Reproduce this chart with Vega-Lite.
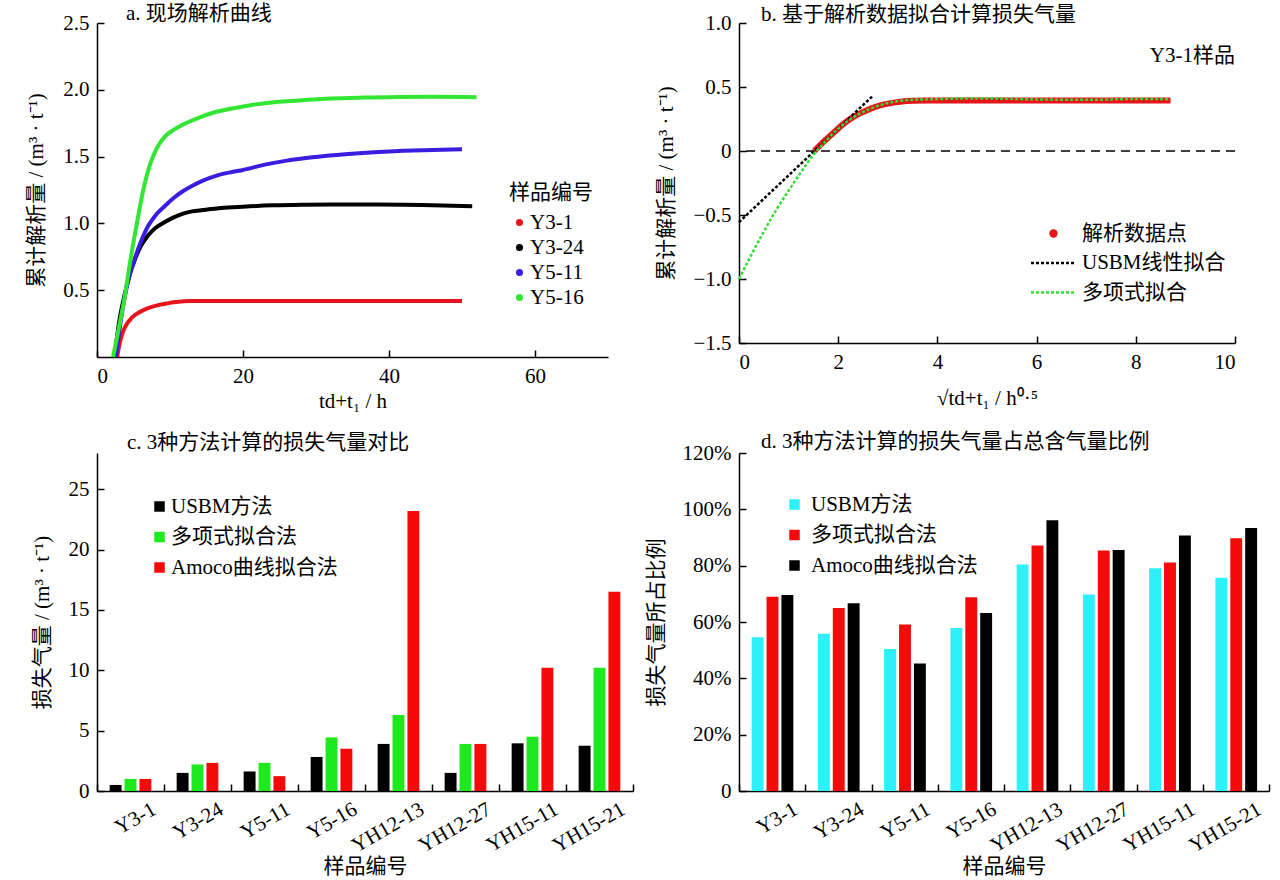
{
  "$schema": "https://vega.github.io/schema/vega-lite/v6.json",
  "background": "white",
  "padding": {"left": 25, "top": 3, "right": 5, "bottom": 5},
  "columns": 2,
  "bounds": "flush",
  "spacing": {"row": 96, "column": 106},
  "resolve": {"scale": {"color": "independent"}, "legend": {"color": "independent"}},
  "config": {
    "font": "Liberation Serif, Noto Sans CJK SC",
    "view": {"stroke": null},
    "axis": {
      "domainColor": "#000", "domainWidth": 1.5,
      "tickColor": "#000", "tickWidth": 1.5, "tickSize": -7,
      "labelFont": "Liberation Serif, Noto Sans CJK SC", "labelFontSize": 21, "labelColor": "#000", "labelPadding": 15,
      "titleFont": "Liberation Serif, Noto Sans CJK SC", "titleFontSize": 21, "titleFontWeight": "normal", "titleColor": "#000", "titlePadding": 16,
      "grid": false
    },
    "title": {"font": "Liberation Serif, Noto Sans CJK SC", "fontSize": 21, "fontWeight": "normal", "color": "#000", "anchor": "start", "frame": "group", "baseline": "bottom"},
    "legend": {"labelFont": "Liberation Serif, Noto Sans CJK SC", "labelFontSize": 21, "labelColor": "#000", "labelLimit": 0, "padding": 0,
      "titleFont": "Liberation Serif, Noto Sans CJK SC", "titleFontSize": 21, "titleFontWeight": "normal", "titleColor": "#000"}
  },
  "datasets": {
    "a": [
      {"s":"Y3-1","t":2.75,"v":0},{"s":"Y3-1","t":3.1,"v":0.1},{"s":"Y3-1","t":3.5,"v":0.18},{"s":"Y3-1","t":4,"v":0.24},{"s":"Y3-1","t":4.7,"v":0.29},{"s":"Y3-1","t":5.5,"v":0.325},{"s":"Y3-1","t":6.5,"v":0.355},{"s":"Y3-1","t":7.5,"v":0.375},{"s":"Y3-1","t":8.5,"v":0.39},{"s":"Y3-1","t":9.5,"v":0.4},{"s":"Y3-1","t":10.5,"v":0.41},{"s":"Y3-1","t":11.5,"v":0.415},{"s":"Y3-1","t":12.7,"v":0.42},{"s":"Y3-1","t":20,"v":0.42},{"s":"Y3-1","t":30,"v":0.42},{"s":"Y3-1","t":40,"v":0.42},{"s":"Y3-1","t":50,"v":0.42},
      {"s":"Y3-24","t":2.4,"v":0},{"s":"Y3-24","t":3.0,"v":0.25},{"s":"Y3-24","t":3.8,"v":0.47},{"s":"Y3-24","t":4.5,"v":0.62},{"s":"Y3-24","t":5.2,"v":0.73},{"s":"Y3-24","t":6,"v":0.83},{"s":"Y3-24","t":7,"v":0.91},{"s":"Y3-24","t":8,"v":0.965},{"s":"Y3-24","t":9.3,"v":1.01},{"s":"Y3-24","t":10.5,"v":1.045},{"s":"Y3-24","t":11.6,"v":1.07},{"s":"Y3-24","t":13,"v":1.09},{"s":"Y3-24","t":14.5,"v":1.1},{"s":"Y3-24","t":17,"v":1.115},{"s":"Y3-24","t":20,"v":1.125},{"s":"Y3-24","t":24,"v":1.135},{"s":"Y3-24","t":28,"v":1.14},{"s":"Y3-24","t":32,"v":1.142},{"s":"Y3-24","t":37,"v":1.142},{"s":"Y3-24","t":42,"v":1.14},{"s":"Y3-24","t":46,"v":1.135},{"s":"Y3-24","t":51.4,"v":1.128},
      {"s":"Y5-11","t":2.6,"v":0},{"s":"Y5-11","t":3.2,"v":0.25},{"s":"Y5-11","t":3.8,"v":0.45},{"s":"Y5-11","t":4.5,"v":0.62},{"s":"Y5-11","t":5.2,"v":0.74},{"s":"Y5-11","t":6,"v":0.86},{"s":"Y5-11","t":7,"v":0.98},{"s":"Y5-11","t":8,"v":1.06},{"s":"Y5-11","t":9.3,"v":1.13},{"s":"Y5-11","t":10.5,"v":1.19},{"s":"Y5-11","t":11.6,"v":1.235},{"s":"Y5-11","t":13,"v":1.28},{"s":"Y5-11","t":14.5,"v":1.32},{"s":"Y5-11","t":16.5,"v":1.36},{"s":"Y5-11","t":18.5,"v":1.385},{"s":"Y5-11","t":20,"v":1.4},{"s":"Y5-11","t":23,"v":1.44},{"s":"Y5-11","t":26,"v":1.47},{"s":"Y5-11","t":30,"v":1.497},{"s":"Y5-11","t":34,"v":1.517},{"s":"Y5-11","t":38,"v":1.532},{"s":"Y5-11","t":42,"v":1.543},{"s":"Y5-11","t":46,"v":1.55},{"s":"Y5-11","t":50,"v":1.555},
      {"s":"Y5-16","t":2.2,"v":0},{"s":"Y5-16","t":3.0,"v":0.22},{"s":"Y5-16","t":3.8,"v":0.45},{"s":"Y5-16","t":4.5,"v":0.7},{"s":"Y5-16","t":5.2,"v":0.92},{"s":"Y5-16","t":5.9,"v":1.13},{"s":"Y5-16","t":6.55,"v":1.3},{"s":"Y5-16","t":7.2,"v":1.43},{"s":"Y5-16","t":7.9,"v":1.53},{"s":"Y5-16","t":8.6,"v":1.6},{"s":"Y5-16","t":9.3,"v":1.65},{"s":"Y5-16","t":10.5,"v":1.7},{"s":"Y5-16","t":11.6,"v":1.735},{"s":"Y5-16","t":13.9,"v":1.79},{"s":"Y5-16","t":16,"v":1.83},{"s":"Y5-16","t":18.5,"v":1.86},{"s":"Y5-16","t":21,"v":1.885},{"s":"Y5-16","t":23,"v":1.9},{"s":"Y5-16","t":27.6,"v":1.92},{"s":"Y5-16","t":32.2,"v":1.935},{"s":"Y5-16","t":36.8,"v":1.942},{"s":"Y5-16","t":41.4,"v":1.947},{"s":"Y5-16","t":45.9,"v":1.948},{"s":"Y5-16","t":52,"v":1.945}
    ],
    "b": [
      {"g":"解析数据点","x":1.52,"y":0},{"g":"解析数据点","x":1.7,"y":0.07},{"g":"解析数据点","x":1.9,"y":0.14},{"g":"解析数据点","x":2.1,"y":0.21},{"g":"解析数据点","x":2.3,"y":0.265},{"g":"解析数据点","x":2.5,"y":0.305},{"g":"解析数据点","x":2.75,"y":0.345},{"g":"解析数据点","x":3.0,"y":0.37},{"g":"解析数据点","x":3.25,"y":0.385},{"g":"解析数据点","x":3.5,"y":0.392},{"g":"解析数据点","x":3.8,"y":0.394},{"g":"解析数据点","x":4.5,"y":0.394},{"g":"解析数据点","x":5.5,"y":0.394},{"g":"解析数据点","x":6.5,"y":0.394},{"g":"解析数据点","x":7.5,"y":0.394},{"g":"解析数据点","x":8.7,"y":0.394},
      {"g":"USBM线性拟合","x":0,"y":-0.556},{"g":"USBM线性拟合","x":2.69,"y":0.428},
      {"g":"多项式拟合","x":0,"y":-1.0},{"g":"多项式拟合","x":0.25,"y":-0.81},{"g":"多项式拟合","x":0.5,"y":-0.63},{"g":"多项式拟合","x":0.75,"y":-0.46},{"g":"多项式拟合","x":1.0,"y":-0.31},{"g":"多项式拟合","x":1.25,"y":-0.165},{"g":"多项式拟合","x":1.5,"y":-0.03},{"g":"多项式拟合","x":1.75,"y":0.08},{"g":"多项式拟合","x":2.0,"y":0.175},{"g":"多项式拟合","x":2.25,"y":0.25},{"g":"多项式拟合","x":2.5,"y":0.305},{"g":"多项式拟合","x":2.75,"y":0.345},{"g":"多项式拟合","x":3.0,"y":0.375},{"g":"多项式拟合","x":3.25,"y":0.392},{"g":"多项式拟合","x":3.5,"y":0.4},{"g":"多项式拟合","x":4.0,"y":0.405},{"g":"多项式拟合","x":4.5,"y":0.41},{"g":"多项式拟合","x":5.0,"y":0.41},{"g":"多项式拟合","x":6.0,"y":0.403},{"g":"多项式拟合","x":7.0,"y":0.4},{"g":"多项式拟合","x":8.0,"y":0.406},{"g":"多项式拟合","x":8.7,"y":0.405}
    ],
    "c": [
      {"s":"Y3-1","m":"USBM方法","v":0.5},{"s":"Y3-1","m":"多项式拟合法","v":1.0},{"s":"Y3-1","m":"Amoco曲线拟合法","v":1.0},
      {"s":"Y3-24","m":"USBM方法","v":1.5},{"s":"Y3-24","m":"多项式拟合法","v":2.2},{"s":"Y3-24","m":"Amoco曲线拟合法","v":2.33},
      {"s":"Y5-11","m":"USBM方法","v":1.62},{"s":"Y5-11","m":"多项式拟合法","v":2.33},{"s":"Y5-11","m":"Amoco曲线拟合法","v":1.23},
      {"s":"Y5-16","m":"USBM方法","v":2.82},{"s":"Y5-16","m":"多项式拟合法","v":4.44},{"s":"Y5-16","m":"Amoco曲线拟合法","v":3.5},
      {"s":"YH12-13","m":"USBM方法","v":3.9},{"s":"YH12-13","m":"多项式拟合法","v":6.3},{"s":"YH12-13","m":"Amoco曲线拟合法","v":23.2},
      {"s":"YH12-27","m":"USBM方法","v":1.5},{"s":"YH12-27","m":"多项式拟合法","v":3.9},{"s":"YH12-27","m":"Amoco曲线拟合法","v":3.9},
      {"s":"YH15-11","m":"USBM方法","v":3.95},{"s":"YH15-11","m":"多项式拟合法","v":4.5},{"s":"YH15-11","m":"Amoco曲线拟合法","v":10.2},
      {"s":"YH15-21","m":"USBM方法","v":3.75},{"s":"YH15-21","m":"多项式拟合法","v":10.2},{"s":"YH15-21","m":"Amoco曲线拟合法","v":16.5}
    ],
    "d": [
      {"s":"Y3-1","m":"USBM方法","v":54.6},{"s":"Y3-1","m":"多项式拟合法","v":69.0},{"s":"Y3-1","m":"Amoco曲线拟合法","v":69.6},
      {"s":"Y3-24","m":"USBM方法","v":55.8},{"s":"Y3-24","m":"多项式拟合法","v":65.0},{"s":"Y3-24","m":"Amoco曲线拟合法","v":66.7},
      {"s":"Y5-11","m":"USBM方法","v":50.4},{"s":"Y5-11","m":"多项式拟合法","v":59.1},{"s":"Y5-11","m":"Amoco曲线拟合法","v":45.3},
      {"s":"Y5-16","m":"USBM方法","v":57.9},{"s":"Y5-16","m":"多项式拟合法","v":68.8},{"s":"Y5-16","m":"Amoco曲线拟合法","v":63.2},
      {"s":"YH12-13","m":"USBM方法","v":80.4},{"s":"YH12-13","m":"多项式拟合法","v":87.2},{"s":"YH12-13","m":"Amoco曲线拟合法","v":96.1},
      {"s":"YH12-27","m":"USBM方法","v":69.8},{"s":"YH12-27","m":"多项式拟合法","v":85.4},{"s":"YH12-27","m":"Amoco曲线拟合法","v":85.6},
      {"s":"YH15-11","m":"USBM方法","v":79.1},{"s":"YH15-11","m":"多项式拟合法","v":81.1},{"s":"YH15-11","m":"Amoco曲线拟合法","v":90.7},
      {"s":"YH15-21","m":"USBM方法","v":75.7},{"s":"YH15-21","m":"多项式拟合法","v":89.7},{"s":"YH15-21","m":"Amoco曲线拟合法","v":93.4}
    ]
  },
  "concat": [
    {
      "width": 511, "height": 334,
      "title": {"text": "a. 现场解析曲线", "dx": 29, "offset": -12},
      "data": {"name": "a"},
      "mark": {"type": "line", "strokeWidth": 4, "interpolate": "monotone"},
      "encoding": {
        "x": {"field": "t", "type": "quantitative", "scale": {"domain": [0, 70], "nice": false},
          "axis": {"values": [0, 20, 40, 60], "title": "td+t₁ / h", "titlePadding": 4}},
        "y": {"field": "v", "type": "quantitative", "scale": {"domain": [0, 2.5], "nice": false},
          "axis": {"values": [0.5, 1, 1.5, 2, 2.5], "format": ".1f", "title": "累计解析量 / (m³ · t⁻¹)"}},
        "color": {"field": "s", "type": "nominal",
          "scale": {"domain": ["Y3-1", "Y3-24", "Y5-11", "Y5-16"], "range": ["#e8141c", "#000000", "#3a1ee0", "#33e633"]},
          "legend": {"orient": "none", "legendX": 412, "legendY": 159, "title": "样品编号", "titlePadding": 9,
            "rowPadding": 3, "symbolType": "circle", "symbolSize": 50, "labelOffset": 0,
            "encode": {"symbols": {"update": {
              "fill": {"signal": "datum.value === 'Y3-1' ? '#e8141c' : datum.value === 'Y3-24' ? '#000000' : datum.value === 'Y5-11' ? '#3a1ee0' : '#33e633'"},
              "strokeWidth": {"value": 0}}}}}}
      }
    },
    {
      "width": 496, "height": 320,
      "title": {"text": "b. 基于解析数据拟合计算损失气量", "dx": 22, "offset": -13},
      "layer": [
        {
          "data": {"values": [{}]},
          "mark": {"type": "rule", "strokeDash": [9, 6], "strokeWidth": 1.5, "color": "#000"},
          "encoding": {"y": {"datum": 0, "type": "quantitative"}}
        },
        {
          "data": {"name": "b"},
          "transform": [{"filter": "datum.g === '解析数据点'"}],
          "mark": {"type": "line", "strokeWidth": 6, "interpolate": "monotone"},
          "encoding": {
            "x": {"field": "x", "type": "quantitative", "scale": {"domain": [0, 10], "nice": false},
              "axis": {"values": [0, 2, 4, 6, 8, 10], "title": "√td+t₁ / h⁰·⁵", "titlePadding": 15}},
            "y": {"field": "y", "type": "quantitative", "scale": {"domain": [-1.5, 1], "nice": false},
              "axis": {"values": [-1.5, -1, -0.5, 0, 0.5, 1], "labelExpr": "datum.value == 0 ? '0' : format(datum.value, '.1f')", "title": "累计解析量 / (m³ · t⁻¹)"}},
            "color": {"field": "g", "type": "nominal",
              "scale": {"domain": ["解析数据点", "USBM线性拟合", "多项式拟合"], "range": ["#e8141c", "#000000", "#33dd33"]},
              "legend": {"orient": "none", "legendX": 304, "legendY": 200, "title": null, "rowPadding": 7.5,
                "symbolType": "stroke", "symbolSize": 2025, "labelOffset": 18,
                "encode": {"symbols": {"update": {
                  "shape": {"signal": "datum.value === '解析数据点' ? 'circle' : 'stroke'"},
                  "size": {"signal": "datum.value === '解析数据点' ? 70 : 2025"},
                  "fill": {"signal": "datum.value === '解析数据点' ? '#e8141c' : 'transparent'"},
                  "stroke": {"signal": "datum.value === '解析数据点' ? '#e8141c' : datum.value === 'USBM线性拟合' ? '#000000' : '#33dd33'"},
                  "strokeDash": {"signal": "datum.value === '解析数据点' ? [1, 0] : [3, 2]"},
                  "strokeWidth": {"signal": "datum.value === '解析数据点' ? 0 : 2.5"}}}}}}
          }
        },
        {
          "data": {"name": "b"},
          "transform": [{"filter": "datum.g === 'USBM线性拟合'"}],
          "mark": {"type": "line", "strokeWidth": 2.5, "strokeDash": [3, 2]},
          "encoding": {
            "x": {"field": "x", "type": "quantitative"},
            "y": {"field": "y", "type": "quantitative"},
            "color": {"field": "g", "type": "nominal"}
          }
        },
        {
          "data": {"name": "b"},
          "transform": [{"filter": "datum.g === '多项式拟合'"}],
          "mark": {"type": "line", "strokeWidth": 2.5, "strokeDash": [3, 2], "interpolate": "monotone"},
          "encoding": {
            "x": {"field": "x", "type": "quantitative"},
            "y": {"field": "y", "type": "quantitative"},
            "color": {"field": "g", "type": "nominal"}
          }
        },
        {
          "data": {"values": [{}]},
          "mark": {"type": "text", "align": "right", "baseline": "middle", "fontSize": 21, "color": "#000"},
          "encoding": {
            "x": {"datum": 10, "type": "quantitative"},
            "y": {"datum": 0.74, "type": "quantitative"},
            "text": {"value": "Y3-1样品"}
          }
        }
      ]
    },
    {
      "width": 536, "height": 338,
      "title": {"text": "c. 3种方法计算的损失气量对比", "dx": 30, "offset": 0},
      "data": {"name": "c"},
      "mark": {"type": "bar"},
      "encoding": {
        "x": {"field": "s", "type": "nominal", "sort": null, "scale": {"paddingInner": 0, "paddingOuter": 0},
          "axis": {"title": "样品编号", "labelAngle": -30, "labelAlign": "right", "labelBaseline": "top", "tickBand": "extent", "labelOffset": 18, "labelPadding": 14, "titlePadding": 0}},
        "xOffset": {"field": "m", "sort": null, "scale": {"paddingInner": 0.2, "paddingOuter": 0.85}},
        "y": {"field": "v", "type": "quantitative", "scale": {"domain": [0, 28], "nice": false},
          "axis": {"values": [0, 5, 10, 15, 20, 25], "title": "损失气量 / (m³ · t⁻¹)"}},
        "color": {"field": "m", "type": "nominal",
          "scale": {"domain": ["USBM方法", "多项式拟合法", "Amoco曲线拟合法"], "range": ["#000000", "#1ee81e", "#f50a0a"]},
          "legend": {"orient": "none", "legendX": 52, "legendY": 43, "title": null, "symbolType": "square", "symbolSize": 110, "rowPadding": 8.5, "labelOffset": 1}}
      }
    },
    {
      "width": 530, "height": 338,
      "title": {"text": "d. 3种方法计算的损失气量占总含气量比例", "dx": 22, "offset": -10},
      "data": {"name": "d"},
      "mark": {"type": "bar"},
      "encoding": {
        "x": {"field": "s", "type": "nominal", "sort": null, "scale": {"paddingInner": 0, "paddingOuter": 0},
          "axis": {"title": "样品编号", "labelAngle": -30, "labelAlign": "right", "labelBaseline": "top", "tickBand": "extent", "labelOffset": 18, "labelPadding": 14, "titlePadding": 0}},
        "xOffset": {"field": "m", "sort": null, "scale": {"paddingInner": 0.2, "paddingOuter": 0.85}},
        "y": {"field": "v", "type": "quantitative", "scale": {"domain": [0, 120], "nice": false},
          "axis": {"values": [0, 20, 40, 60, 80, 100, 120], "labelExpr": "datum.value == 0 ? '0' : datum.value + '%'", "title": "损失气量所占比例"}},
        "color": {"field": "m", "type": "nominal",
          "scale": {"domain": ["USBM方法", "多项式拟合法", "Amoco曲线拟合法"], "range": ["#2ef0f8", "#f50a0a", "#000000"]},
          "legend": {"orient": "none", "legendX": 45, "legendY": 41, "title": null, "symbolType": "square", "symbolSize": 110, "rowPadding": 8.5, "labelOffset": 6}}
      }
    }
  ]
}
